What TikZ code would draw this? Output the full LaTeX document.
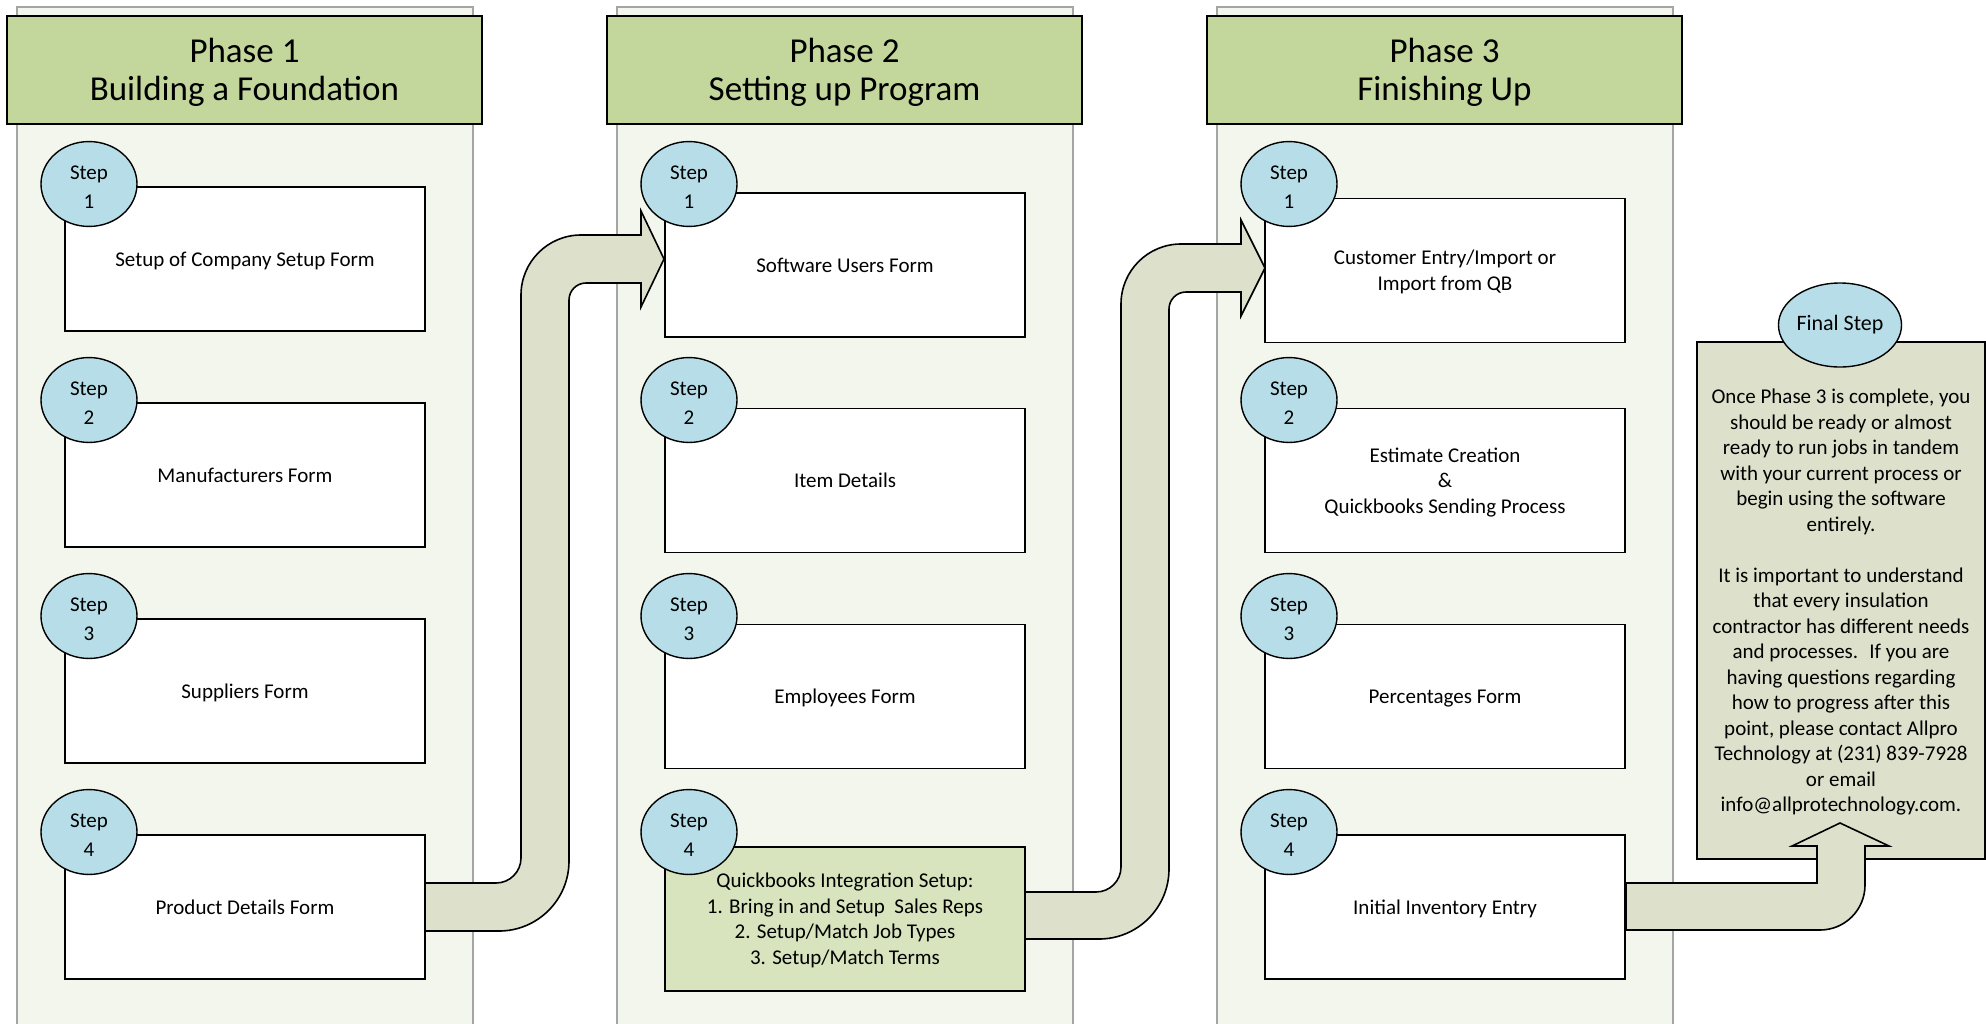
\documentclass[tikz,border=0pt]{standalone}
\usepackage{fontspec}
\setmainfont{Carlito}
\usetikzlibrary{shapes.geometric}
\definecolor{lanefill}{HTML}{F2F6EC}
\definecolor{lanedraw}{HTML}{A5A5A5}
\definecolor{headfill}{HTML}{C3D69B}
\definecolor{badgefill}{HTML}{B7DEE8}
\definecolor{arrowfill}{HTML}{DDE0CB}
\definecolor{qbfill}{HTML}{D7E4BD}
\definecolor{finalfill}{HTML}{DDE0CB}
\newcommand{\mytopstrut}{\vrule width0pt height0.952em depth0pt\relax}
\newcommand{\mybadgestrut}{\vrule width0pt height\dimexpr0.952em+2.7pt\relax depth0pt\relax}
\newcommand{\mybotstrut}{\vrule width0pt height0pt depth0.269em\relax}
\newcommand{\stepno}[1]{\mybadgestrut Step\\#1\mybotstrut}
\begin{document}
\begin{tikzpicture}[x=0.5pt,y=-0.5pt,
  lane/.style={fill=lanefill, draw=lanedraw, line width=0.8pt},
  header/.style={rectangle, fill=headfill, draw=black, line width=1pt,
    minimum width=237.5pt, minimum height=54pt, inner sep=0pt, align=center,
    font=\fontsize{17.5}{19}\selectfont},
  stepbox/.style={rectangle, fill=white, draw=black, line width=0.9pt,
    minimum width=180pt, minimum height=72pt, inner sep=0pt, align=center,
    font=\fontsize{10.5}{12.75}\selectfont},
  badge/.style={ellipse, fill=badgefill, draw=black, line width=0.7pt,
    minimum width=48pt, minimum height=36pt, inner sep=0pt, align=center,
    font=\fontsize{10.5}{14.5}\selectfont},
  finalbox/.style={rectangle, fill=finalfill, draw=black, line width=0.9pt,
    minimum width=144pt, minimum height=258.5pt, inner sep=0pt},
  finaltext/.style={align=center, inner sep=0pt, font=\fontsize{10.5}{12.75}\selectfont},
  blockarrow/.style={fill=arrowfill, draw=black, line width=0.8pt, line join=miter}
]
\useasboundingbox (0,0) rectangle (1986,1023);
\clip (0,0) rectangle (1986,1023);

% lanes
\draw[lane] (17,7) rectangle (473,1040);
\draw[lane] (617,7) rectangle (1073,1040);
\draw[lane] (1217,7) rectangle (1673,1040);

% headers
\node[header] (h1) at (244.5,70) {\mytopstrut Phase 1\\Building a Foundation\mybotstrut};
\node[header] (h2) at (844.5,70) {\mytopstrut Phase 2\\Setting up Program\mybotstrut};
\node[header] (h3) at (1444.5,70) {\mytopstrut Phase 3\\Finishing Up\mybotstrut};

% phase 1
\node[stepbox] (p1s1) at (245,259) {\mytopstrut Setup of Company Setup Form\mybotstrut};
\node[stepbox] (p1s2) at (245,475) {\mytopstrut Manufacturers Form\mybotstrut};
\node[stepbox] (p1s3) at (245,691) {\mytopstrut Suppliers Form\mybotstrut};
\node[stepbox] (p1s4) at (245,907) {\mytopstrut Product Details Form\mybotstrut};
% phase 2
\node[stepbox] (p2s1) at (845,265) {\mytopstrut Software Users Form\mybotstrut};
\node[stepbox] (p2s2) at (845,480.5) {\mytopstrut Item Details\mybotstrut};
\node[stepbox] (p2s3) at (845,696.5) {\mytopstrut Employees Form\mybotstrut};
\node[stepbox, fill=qbfill] (p2s4) at (845,919) {\mytopstrut Quickbooks Integration Setup:\\1. Bring in and Setup~ Sales Reps\\2. Setup/Match Job Types\\3. Setup/Match Terms\mybotstrut};
% phase 3
\node[stepbox] (p3s1) at (1445,270.5) {\mytopstrut Customer Entry/Import or\\Import from QB\mybotstrut};
\node[stepbox] (p3s2) at (1445,480.5) {\mytopstrut Estimate Creation\\\&\\Quickbooks Sending Process\mybotstrut};
\node[stepbox] (p3s3) at (1445,696.5) {\mytopstrut Percentages Form\mybotstrut};
\node[stepbox] (p3s4) at (1445,907) {\mytopstrut Initial Inventory Entry\mybotstrut};

% badges
\foreach \c/\x in {1/89,2/689,3/1289}{
  \node[badge] (b\c a) at (\x,184) {\stepno{1}};
  \node[badge] (b\c b) at (\x,400) {\stepno{2}};
  \node[badge] (b\c c) at (\x,616) {\stepno{3}};
  \node[badge] (b\c d) at (\x,832) {\stepno{4}};
}

% final box
\node[finalbox] (fin) at (1841,600.5) {};
\node[finaltext] (fintext) at (1841,602.5) {Once Phase 3 is complete, you\\should be ready or almost\\ready to run jobs in tandem\\with your current process or\\begin using the software\\entirely.\\[12.75pt]It is important to understand\\that every insulation\\contractor has different needs\\and processes.~ If you are\\having questions regarding\\how to progress after this\\point, please contact Allpro\\Technology at (231) 839-7928\\or email\\info@allprotechnology.com.};
\node[badge, minimum width=60pt, minimum height=42pt, font=\fontsize{11}{13}\selectfont] (finbadge) at (1840,325) {Final Step};

% block arrows
\draw[blockarrow] (425,883) -- (496,883) arc[start angle=90,end angle=0,radius=25]
  -- (521,295) arc[start angle=180,end angle=270,radius=60]
  -- (641,235) -- (641,211) -- (664,259) -- (641,307) -- (641,283)
  -- (586,283) arc[start angle=270,end angle=180,radius=17]
  -- (569,861) arc[start angle=0,end angle=90,radius=70]
  -- (425,931) -- cycle;
\draw[blockarrow] (1025,892) -- (1096,892) arc[start angle=90,end angle=0,radius=25]
  -- (1121,304) arc[start angle=180,end angle=270,radius=60]
  -- (1241,244) -- (1241,220) -- (1265,268) -- (1241,316) -- (1241,292)
  -- (1186,292) arc[start angle=270,end angle=180,radius=17]
  -- (1169,869) arc[start angle=0,end angle=90,radius=70]
  -- (1025,939) -- cycle;
\draw[blockarrow] (1626,883) -- (1817,883) -- (1817,846) -- (1792,846) -- (1840,823)
  -- (1889,846) -- (1865,846) -- (1865,885) arc[start angle=0,end angle=90,radius=45]
  -- (1626,930) -- cycle;
\end{tikzpicture}
\end{document}
